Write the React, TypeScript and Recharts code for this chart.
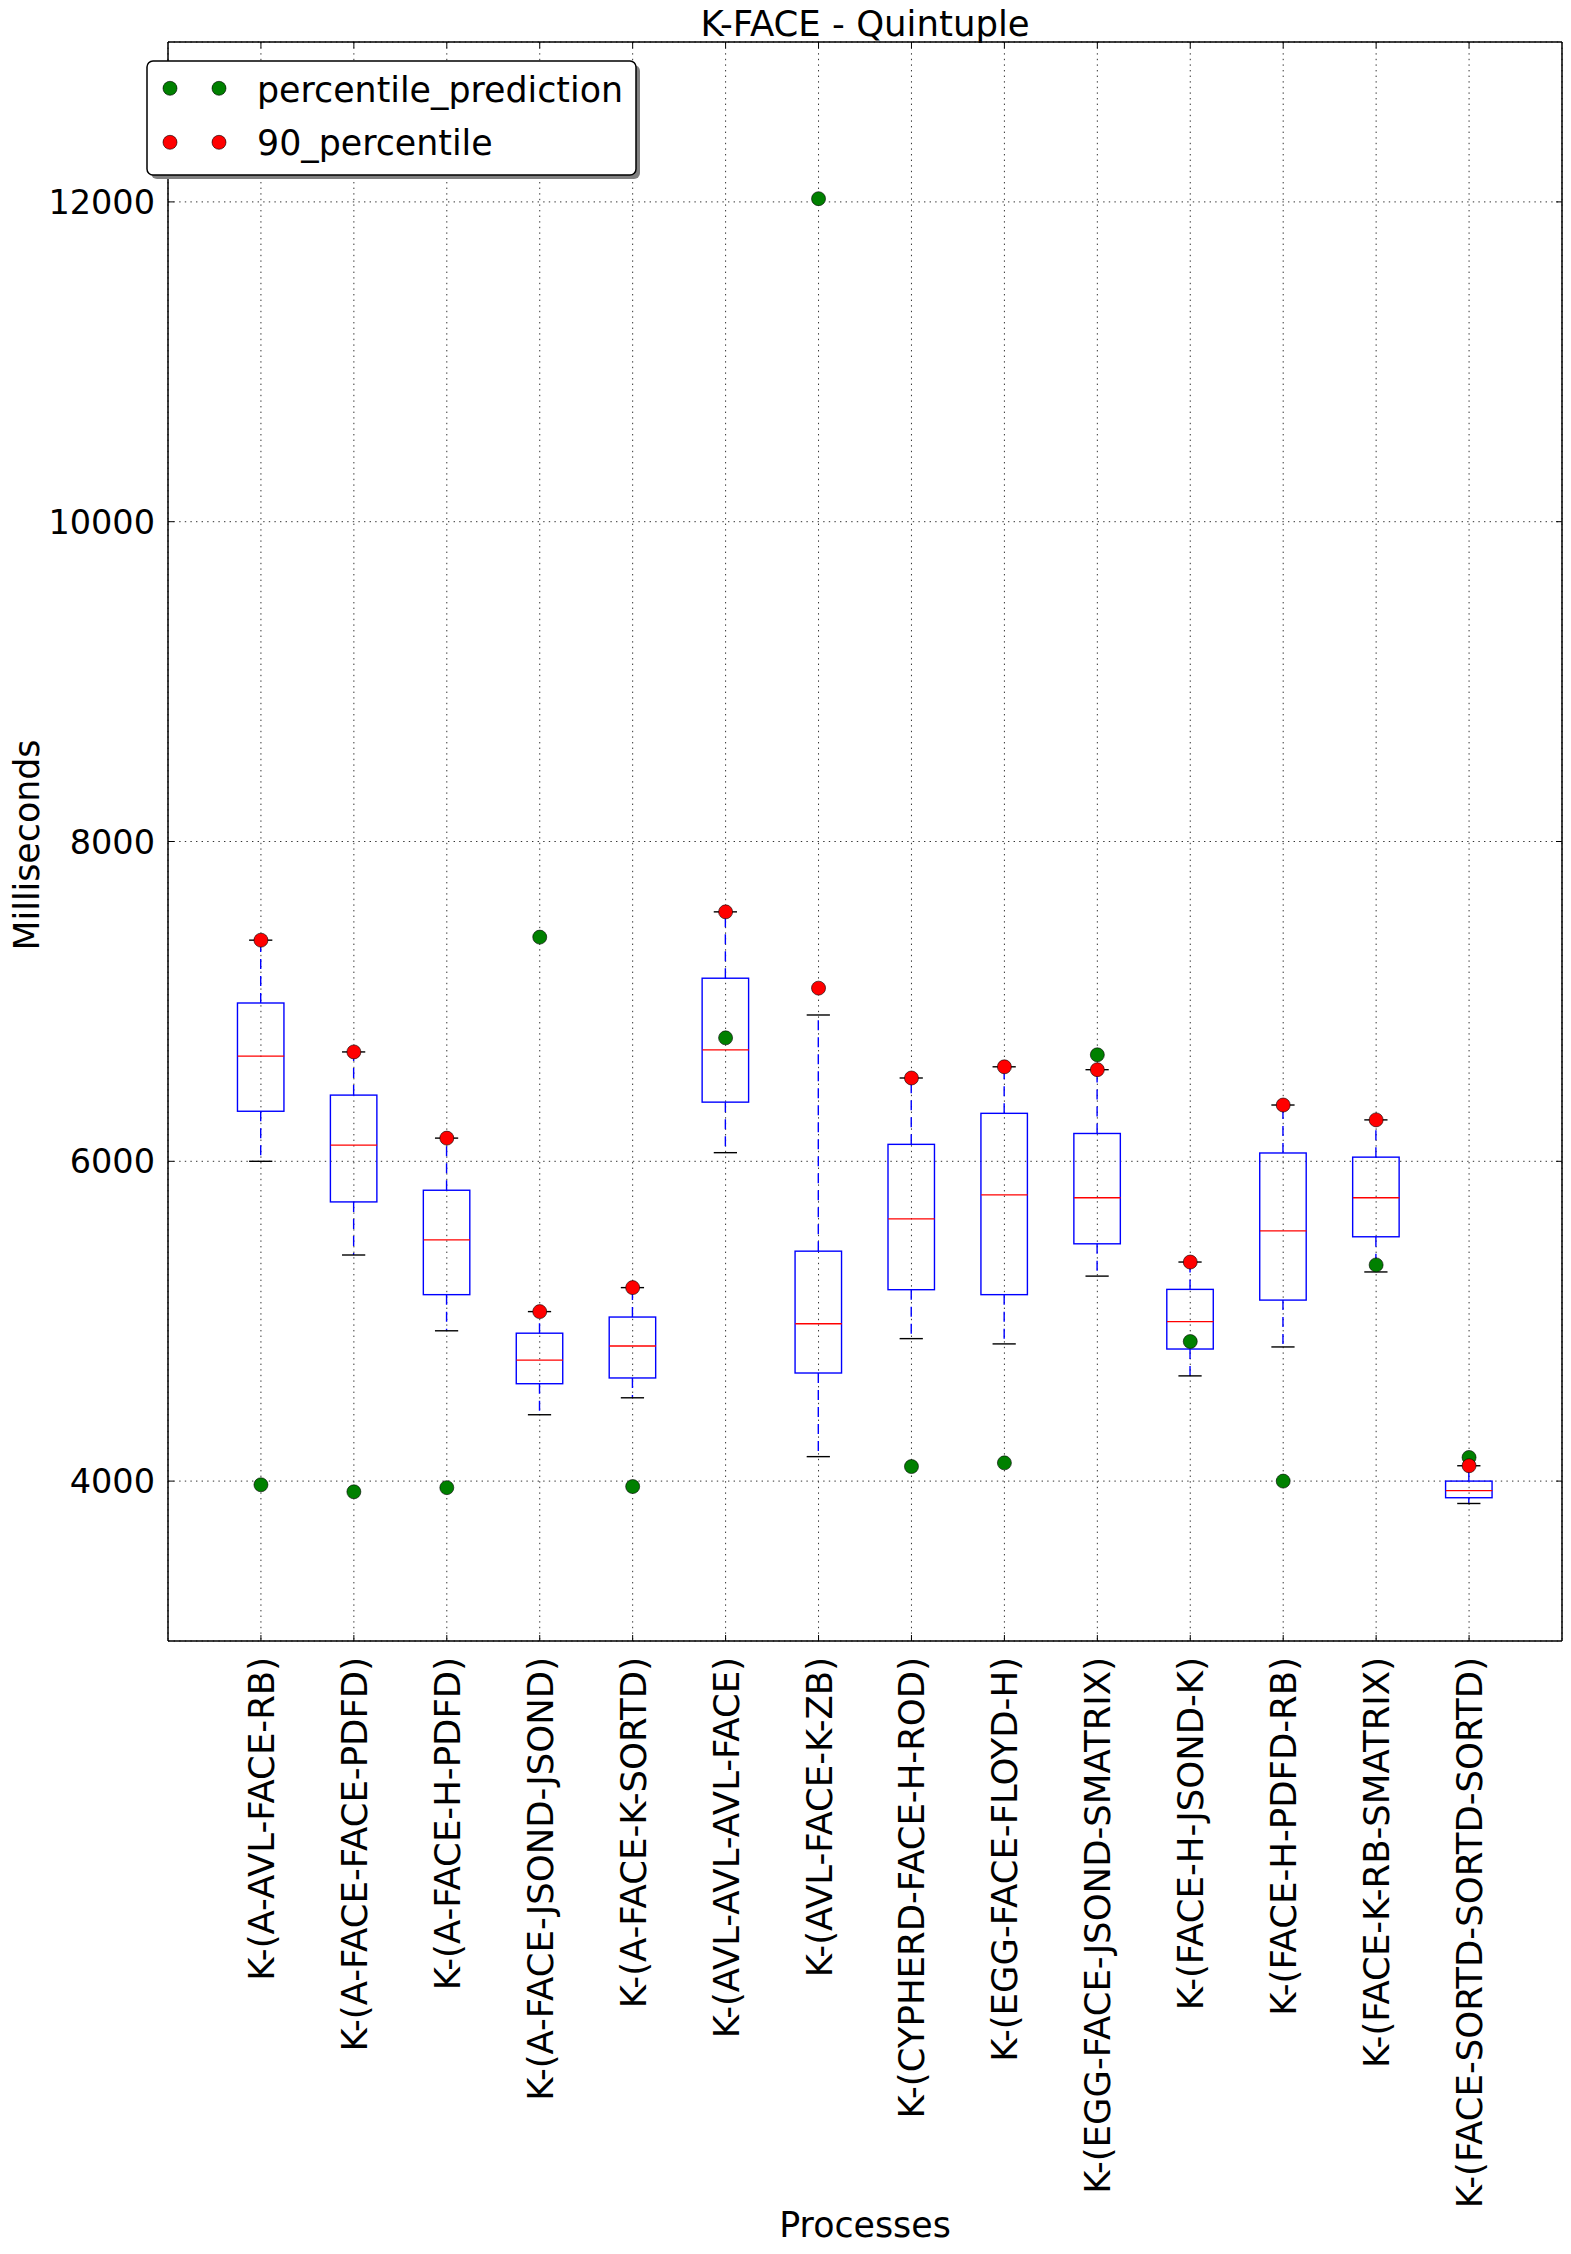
import React from 'react';
import { ComposedChart, Bar, Scatter, XAxis, YAxis, CartesianGrid } from 'recharts';

// ---------- data ----------
const categories = [
  'K-(A-AVL-FACE-RB)',
  'K-(A-FACE-FACE-PDFD)',
  'K-(A-FACE-H-PDFD)',
  'K-(A-FACE-JSOND-JSOND)',
  'K-(A-FACE-K-SORTD)',
  'K-(AVL-AVL-AVL-FACE)',
  'K-(AVL-FACE-K-ZB)',
  'K-(CYPHERD-FACE-H-ROD)',
  'K-(EGG-FACE-FLOYD-H)',
  'K-(EGG-FACE-JSOND-SMATRIX)',
  'K-(FACE-H-JSOND-K)',
  'K-(FACE-H-PDFD-RB)',
  'K-(FACE-K-RB-SMATRIX)',
  'K-(FACE-SORTD-SORTD-SORTD)',
];
const whiskerLow = [6000, 5414, 4940, 4415, 4521, 6054, 4153, 4891, 4858, 5282, 4658, 4839, 5308, 3860];
const q1 = [6313, 5746, 5166, 4609, 4645, 6370, 4676, 5197, 5166, 5484, 4826, 5132, 5528, 3896];
const median = [6658, 6101, 5508, 4756, 4845, 6697, 4984, 5640, 5790, 5772, 4997, 5565, 5772, 3940];
const q3 = [6990, 6414, 5819, 4925, 5026, 7145, 5438, 6106, 6300, 6174, 5199, 6052, 6026, 4000];
const whiskerHigh = [7383, 6684, 6145, 5060, 5210, 7560, 6915, 6521, 6591, 6573, 5370, 6352, 6259, 4096];
const percentile90 = [7383, 6684, 6145, 5060, 5210, 7560, 7083, 6521, 6591, 6573, 5370, 6352, 6259, 4096];
const percentilePrediction = [3977, 3933, 3959, 7402, 3966, 6772, 12020, 4091, 4114, 6666, 4873, 4000, 5352, 4148];
const yTicks = [4000, 6000, 8000, 10000, 12000];
const yDomain = [3000, 13000];

const data = categories.map((name, i) => ({
  name,
  box: [q1[i], q3[i]],
  lowW: [whiskerLow[i], q1[i]],
  highW: [q3[i], whiskerHigh[i]],
  median: median[i],
  pred: percentilePrediction[i],
  p90: percentile90[i],
}));

// ---------- layout / style ----------
const W = 1571;
const H = 2254;
const FONT = '"DejaVu Sans", "Bitstream Vera Sans", sans-serif';
const FS_Y = 33.5;
const FS_X = 35.5;
const FS_LABEL = 34.8;
const PAD = 46.47;
const BOX_W = 46.47;
const BLUE = '#0000ff';
const GREEN = '#008000';
const RED = '#ff0000';

const span = (p: any) => {
  const top = Math.min(p.y, p.y + p.height);
  const bot = Math.max(p.y, p.y + p.height);
  return { top, bot, cx: p.x + p.width / 2 };
};

const BoxShape = (p: any) => {
  const { top, bot } = span(p);
  return <rect x={p.x} y={top} width={p.width} height={bot - top} fill="none" stroke={BLUE} strokeWidth={1.4} />;
};

const LowWhiskerShape = (p: any) => {
  const { top, bot, cx } = span(p);
  return (
    <g>
      <line x1={cx} x2={cx} y1={top} y2={bot} stroke={BLUE} strokeWidth={1.4} strokeDasharray="10 7" />
      <line x1={cx - p.width / 4} x2={cx + p.width / 4} y1={bot} y2={bot} stroke="#000" strokeWidth={1.4} />
    </g>
  );
};

const HighWhiskerShape = (p: any) => {
  const { top, bot, cx } = span(p);
  return (
    <g>
      <line x1={cx} x2={cx} y1={bot} y2={top} stroke={BLUE} strokeWidth={1.4} strokeDasharray="10 7" />
      <line x1={cx - p.width / 4} x2={cx + p.width / 4} y1={top} y2={top} stroke="#000" strokeWidth={1.4} />
    </g>
  );
};

const MedianShape = (p: any) => (
  <line x1={p.cx - BOX_W / 2} x2={p.cx + BOX_W / 2} y1={p.cy} y2={p.cy} stroke={RED} strokeWidth={1.3} />
);

const dot = (color: string) => (p: any) => (
  <circle cx={p.cx} cy={p.cy} r={7} fill={color} stroke="#000" strokeWidth={0.6} />
);

const BottomTick = (p: any) => {
  const { x, y, payload } = p;
  const tx = x + 13;
  const ty = y + 16;
  return (
    <g>
      <line x1={x} x2={x} y1={y} y2={y - 6} stroke="#000" strokeWidth={1} />
      <text x={tx} y={ty} transform={`rotate(-90, ${tx}, ${ty})`} textAnchor="end" fontFamily={FONT} fontSize={FS_X} fill="#000">
        {payload.value}
      </text>
    </g>
  );
};

const TopTick = (p: any) => (
  <line x1={p.x} x2={p.x} y1={p.y} y2={p.y + 6} stroke="#000" strokeWidth={1} />
);

const LeftTick = (p: any) => {
  const { x, y, payload } = p;
  return (
    <g>
      <line x1={x} x2={x + 6} y1={y} y2={y} stroke="#000" strokeWidth={1} />
      <text x={x - 13} y={y} dy="0.36em" textAnchor="end" fontFamily={FONT} fontSize={FS_Y} fill="#000">
        {payload.value}
      </text>
    </g>
  );
};

const RightTick = (p: any) => (
  <line x1={p.x} x2={p.x - 6} y1={p.y} y2={p.y} stroke="#000" strokeWidth={1} />
);

const axisLine = { stroke: '#000', strokeWidth: 1.5 };

export default function App() {
  return (
    <div style={{ position: 'absolute', left: 0, top: 0, width: W, height: H, background: '#fff' }}>
      <ComposedChart
        width={W}
        height={H}
        data={data}
        margin={{ top: 41, right: 8, bottom: 13, left: 0 }}
        style={{ position: 'absolute', left: 0, top: 0 }}
      >
        <CartesianGrid stroke="#333" strokeWidth={1} strokeDasharray="1.4 4.2" fill="none" />
        <XAxis
          dataKey="name"
          type="category"
          scale="band"
          interval={0}
          padding={{ left: PAD, right: PAD }}
          height={600}
          tickSize={0}
          tickMargin={0}
          tickLine={false}
          tick={BottomTick}
          axisLine={axisLine}
        />
        <XAxis
          xAxisId="top"
          orientation="top"
          dataKey="name"
          type="category"
          scale="band"
          interval={0}
          padding={{ left: PAD, right: PAD }}
          height={1}
          tickSize={0}
          tickMargin={0}
          tickLine={false}
          tick={TopTick}
          axisLine={axisLine}
        />
        <XAxis xAxisId="w1" dataKey="name" type="category" scale="band" hide padding={{ left: PAD, right: PAD }} />
        <XAxis xAxisId="w2" dataKey="name" type="category" scale="band" hide padding={{ left: PAD, right: PAD }} />
        <YAxis
          type="number"
          domain={yDomain}
          ticks={yTicks}
          allowDataOverflow
          width={168}
          tickSize={0}
          tickMargin={0}
          tickLine={false}
          tick={LeftTick}
          axisLine={axisLine}
          interval={0}
        />
        <YAxis
          yAxisId="right"
          orientation="right"
          type="number"
          domain={yDomain}
          ticks={yTicks}
          allowDataOverflow
          width={1}
          tickSize={0}
          tickMargin={0}
          tickLine={false}
          tick={RightTick}
          axisLine={axisLine}
          interval={0}
        />
        <Bar dataKey="lowW" xAxisId="w1" barSize={BOX_W} shape={LowWhiskerShape} isAnimationActive={false} />
        <Bar dataKey="highW" xAxisId="w2" barSize={BOX_W} shape={HighWhiskerShape} isAnimationActive={false} />
        <Bar dataKey="box" barSize={BOX_W} shape={BoxShape} isAnimationActive={false} />
        <Scatter dataKey="median" shape={MedianShape} isAnimationActive={false} />
        <Scatter dataKey="pred" name="percentile_prediction" shape={dot(GREEN)} isAnimationActive={false} />
        <Scatter dataKey="p90" name="90_percentile" shape={dot(RED)} isAnimationActive={false} />
      </ComposedChart>
      <svg width={W} height={H} style={{ position: 'absolute', left: 0, top: 0, pointerEvents: 'none' }}>
        <text x={865} y={36} textAnchor="middle" fontFamily={FONT} fontSize={35.5} fill="#000">
          K-FACE - Quintuple
        </text>
        <text x={39} y={845} transform="rotate(-90, 39, 845)" textAnchor="middle" fontFamily={FONT} fontSize={FS_LABEL} fill="#000">
          Milliseconds
        </text>
        <text x={865} y={2237} textAnchor="middle" fontFamily={FONT} fontSize={FS_LABEL} fill="#000">
          Processes
        </text>
        {/* legend */}
        <rect x={151} y={65} width={489} height={114} rx={6} ry={6} fill="#808080" />
        <rect x={147} y={61} width={489} height={114} rx={6} ry={6} fill="#fff" stroke="#000" strokeWidth={1.5} />
        <circle cx={170} cy={88.3} r={7} fill={GREEN} stroke="#000" strokeWidth={0.6} />
        <circle cx={219} cy={88.3} r={7} fill={GREEN} stroke="#000" strokeWidth={0.6} />
        <text x={257} y={101.7} fontFamily={FONT} fontSize={FS_LABEL} fill="#000">percentile_prediction</text>
        <circle cx={170} cy={142.3} r={7} fill={RED} stroke="#000" strokeWidth={0.6} />
        <circle cx={219} cy={142.3} r={7} fill={RED} stroke="#000" strokeWidth={0.6} />
        <text x={257} y={155} fontFamily={FONT} fontSize={FS_LABEL} fill="#000">90_percentile</text>
      </svg>
    </div>
  );
}
